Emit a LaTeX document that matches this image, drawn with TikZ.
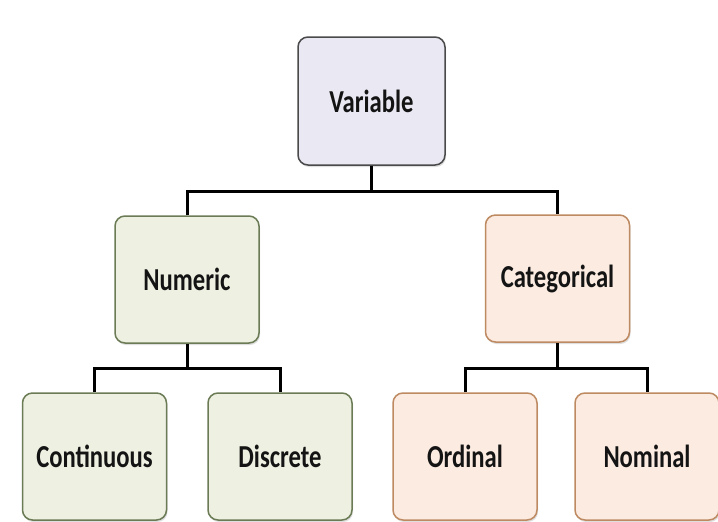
\documentclass[tikz,border=0pt]{standalone}
\usepackage{fontspec}
\setmainfont{Carlito}
\usetikzlibrary{shadows}
\definecolor{varfill}{HTML}{EAE8F2}
\definecolor{vardraw}{HTML}{4A4A4A}
\definecolor{grnfill}{HTML}{EEF0E1}
\definecolor{grndraw}{HTML}{6B7B55}
\definecolor{orgfill}{HTML}{FCEBE1}
\definecolor{orgdraw}{HTML}{BE8A62}
\newcommand{\boxlbl}[1]{\scalebox{0.77}[1]{#1}}
\tikzset{
  box/.style={rectangle, rounded corners=10pt, line width=1.5pt,
    minimum width=144pt, minimum height=127pt, inner sep=0pt,
    font=\fontsize{32}{36}\selectfont\bfseries, text=black!92,
    drop shadow={opacity=0.25, shadow xshift=1pt, shadow yshift=-2pt}},
  varbox/.style={box, fill=varfill, draw=vardraw, minimum width=147pt, minimum height=128pt},
  grnbox/.style={box, fill=grnfill, draw=grndraw},
  orgbox/.style={box, fill=orgfill, draw=orgdraw},
  conn/.style={line width=3pt, black}
}
\begin{document}
\begin{tikzpicture}[x=1pt, y=-1pt]
\fill[white] (0,0) rectangle (718,522);
\useasboundingbox (0,0) rectangle (718,522);
\node[varbox] (var) at (371.5,101) {\boxlbl{Variable}};
\node[grnbox] (num) at (187,279.5) {\boxlbl{Numeric}};
\node[orgbox] (cat) at (557.5,278.5) {\boxlbl{Categorical}};
\node[grnbox] (con) at (94.5,456.5) {\boxlbl{Continuous}};
\node[grnbox] (dis) at (280,456.5) {\boxlbl{Discrete}};
\node[orgbox] (ord) at (465,456.5) {\boxlbl{Ordinal}};
\node[orgbox] (nom) at (647,456.5) {\boxlbl{Nominal}};
\coordinate (j1) at (371.5,191);
\coordinate (j2) at (187,368);
\coordinate (j3) at (557.5,368);
\draw[conn] (var.south) -- (j1);
\draw[conn] (num.north) -- (num.north |- j1) -- (cat.north |- j1) -- (cat.north);
\draw[conn] (num.south) -- (j2);
\draw[conn] (con.north) -- (con.north |- j2) -- (dis.north |- j2) -- (dis.north);
\draw[conn] (cat.south) -- (j3);
\draw[conn] (ord.north) -- (ord.north |- j3) -- (nom.north |- j3) -- (nom.north);
\end{tikzpicture}
\end{document}
